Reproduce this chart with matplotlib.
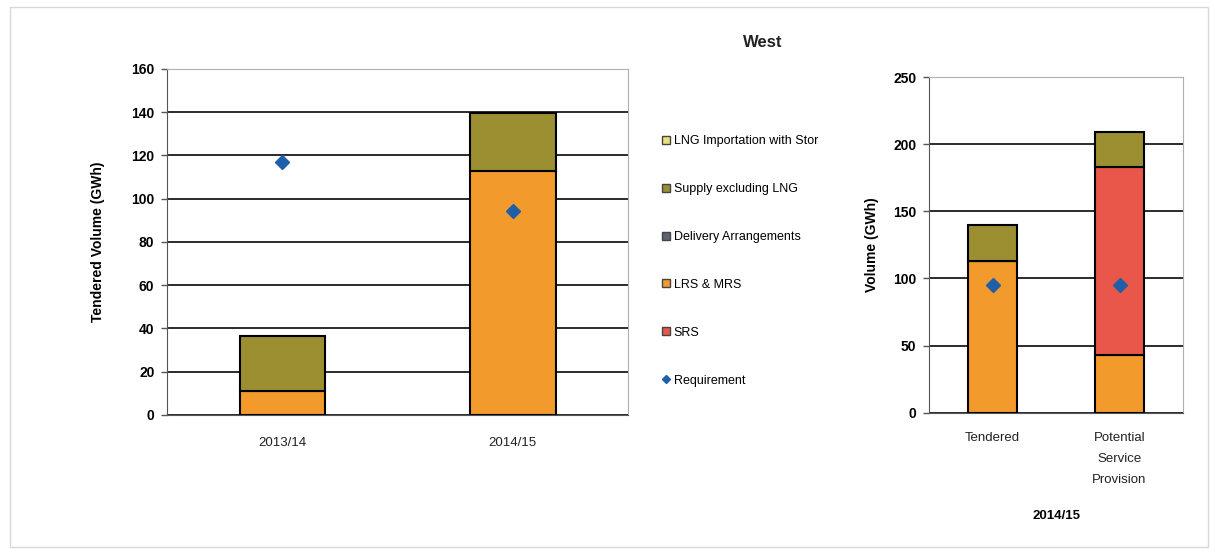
import matplotlib.pyplot as plt
import matplotlib.patches as mpatches
from matplotlib.lines import Line2D
import numpy as np

plt.rcParams['font.family'] = ['Liberation Sans', 'DejaVu Sans']

# left chart data
years = ['2013/14', '2014/15']
lrs_mrs_left = [11, 113]
supply_left = [25.5, 26.5]
requirement_left = [117, 94.5]

# right chart data
cases = ['Tendered', 'Potential\nService\nProvision']
lrs_mrs_right = [113, 43]
srs_right = [0, 140]
supply_right = [27, 26]
requirement_right = [95, 95]

legend_names = ['LNG Importation with Stor', 'Supply excluding LNG', 'Delivery Arrangements',
                'LRS & MRS', 'SRS', 'Requirement']

c_orange = '#f39a2c'
c_olive = '#9b8f32'
c_red = '#e9574a'
c_lng = '#e8e07a'
c_deliv = '#5c6470'
c_blue = '#1f5fa8'
grid_c = '#2b2b2b'

fig = plt.figure(figsize=(12.15, 5.54), dpi=100)

# outer frame
fig.patches.append(mpatches.Rectangle((0.008, 0.012), 0.986, 0.975, transform=fig.transFigure,
                                      fill=False, edgecolor='#d8d8d8', linewidth=1))

def style_axes(ax):
    ax.set_axisbelow(True)
    ax.yaxis.grid(True, color=grid_c, linewidth=1.4)
    ax.spines['top'].set_color('#b0b0b0')
    ax.spines['right'].set_color('#b0b0b0')
    ax.spines['left'].set_color('#555555')
    ax.spines['bottom'].set_color('#555555')
    ax.tick_params(axis='y', length=4, width=1, color='#555555', labelsize=10, pad=5)
    ax.tick_params(axis='x', length=0, labelsize=9.5, pad=16, colors='#222222')
    for lab in ax.get_yticklabels():
        lab.set_fontweight('bold')

# ---- left chart
ax1 = fig.add_axes([0.1374, 0.251, 0.3796, 0.6245])
x1 = np.arange(len(years))
w1 = 0.37
ax1.bar(x1, lrs_mrs_left, w1, color=c_orange, edgecolor='black', linewidth=1.5)
ax1.bar(x1, supply_left, w1, bottom=lrs_mrs_left, color=c_olive, edgecolor='black', linewidth=1.5)
ax1.plot(x1, requirement_left, 'D', color=c_blue, markersize=7, linestyle='none')
ax1.set_xlim(-0.5, 1.5)
ax1.set_ylim(0, 160)
ax1.set_yticks(range(0, 161, 20))
ax1.set_xticks(x1)
ax1.set_xticklabels(years)
ax1.set_ylabel('Tendered Volume (GWh)', fontsize=10, fontweight='bold', labelpad=19)
style_axes(ax1)

# ---- right chart
ax2 = fig.add_axes([0.7646, 0.255, 0.2091, 0.606])
x2 = np.arange(len(cases))
w2 = 0.39
ax2.bar(x2, lrs_mrs_right, w2, color=c_orange, edgecolor='black', linewidth=1.5)
ax2.bar(x2, srs_right, w2, bottom=lrs_mrs_right, color=c_red, edgecolor='black', linewidth=1.5)
bottom_sup = np.array(lrs_mrs_right) + np.array(srs_right)
ax2.bar(x2, supply_right, w2, bottom=bottom_sup, color=c_olive, edgecolor='black', linewidth=1.5)
ax2.plot(x2, requirement_right, 'D', color=c_blue, markersize=7, linestyle='none')
ax2.set_xlim(-0.5, 1.5)
ax2.set_ylim(0, 250)
ax2.set_yticks(range(0, 251, 50))
ax2.set_xticks(x2)
ax2.set_xticklabels(cases, linespacing=2.0)
ax2.tick_params(axis='x', pad=14)
ax2.set_ylabel('Volume (GWh)', fontsize=10, fontweight='bold', labelpad=10)
ax2.set_xlabel('2014/15', fontsize=9.5, fontweight='bold', labelpad=17)
style_axes(ax2)
ax2.tick_params(axis='x', pad=14)

# title
fig.text(0.628, 0.924, 'West', fontsize=12, fontweight='bold', ha='center', va='center', color='#222222')

# legend
handles = [
    Line2D([], [], marker='s', color='none', markerfacecolor=c_lng, markeredgecolor='#444444', markersize=6),
    Line2D([], [], marker='s', color='none', markerfacecolor=c_olive, markeredgecolor='#444444', markersize=6),
    Line2D([], [], marker='s', color='none', markerfacecolor=c_deliv, markeredgecolor='#444444', markersize=6),
    Line2D([], [], marker='s', color='none', markerfacecolor=c_orange, markeredgecolor='#444444', markersize=6),
    Line2D([], [], marker='s', color='none', markerfacecolor=c_red, markeredgecolor='#444444', markersize=6),
    Line2D([], [], marker='D', color='none', markerfacecolor=c_blue, markeredgecolor=c_blue, markersize=4.5),
]
fig.legend(handles, legend_names, loc='upper left', bbox_to_anchor=(0.541, 0.765),
           frameon=False, fontsize=9, handlelength=0.6, handletextpad=0.3,
           labelspacing=2.87, borderaxespad=0)

plt.savefig('out.png', dpi=100)
